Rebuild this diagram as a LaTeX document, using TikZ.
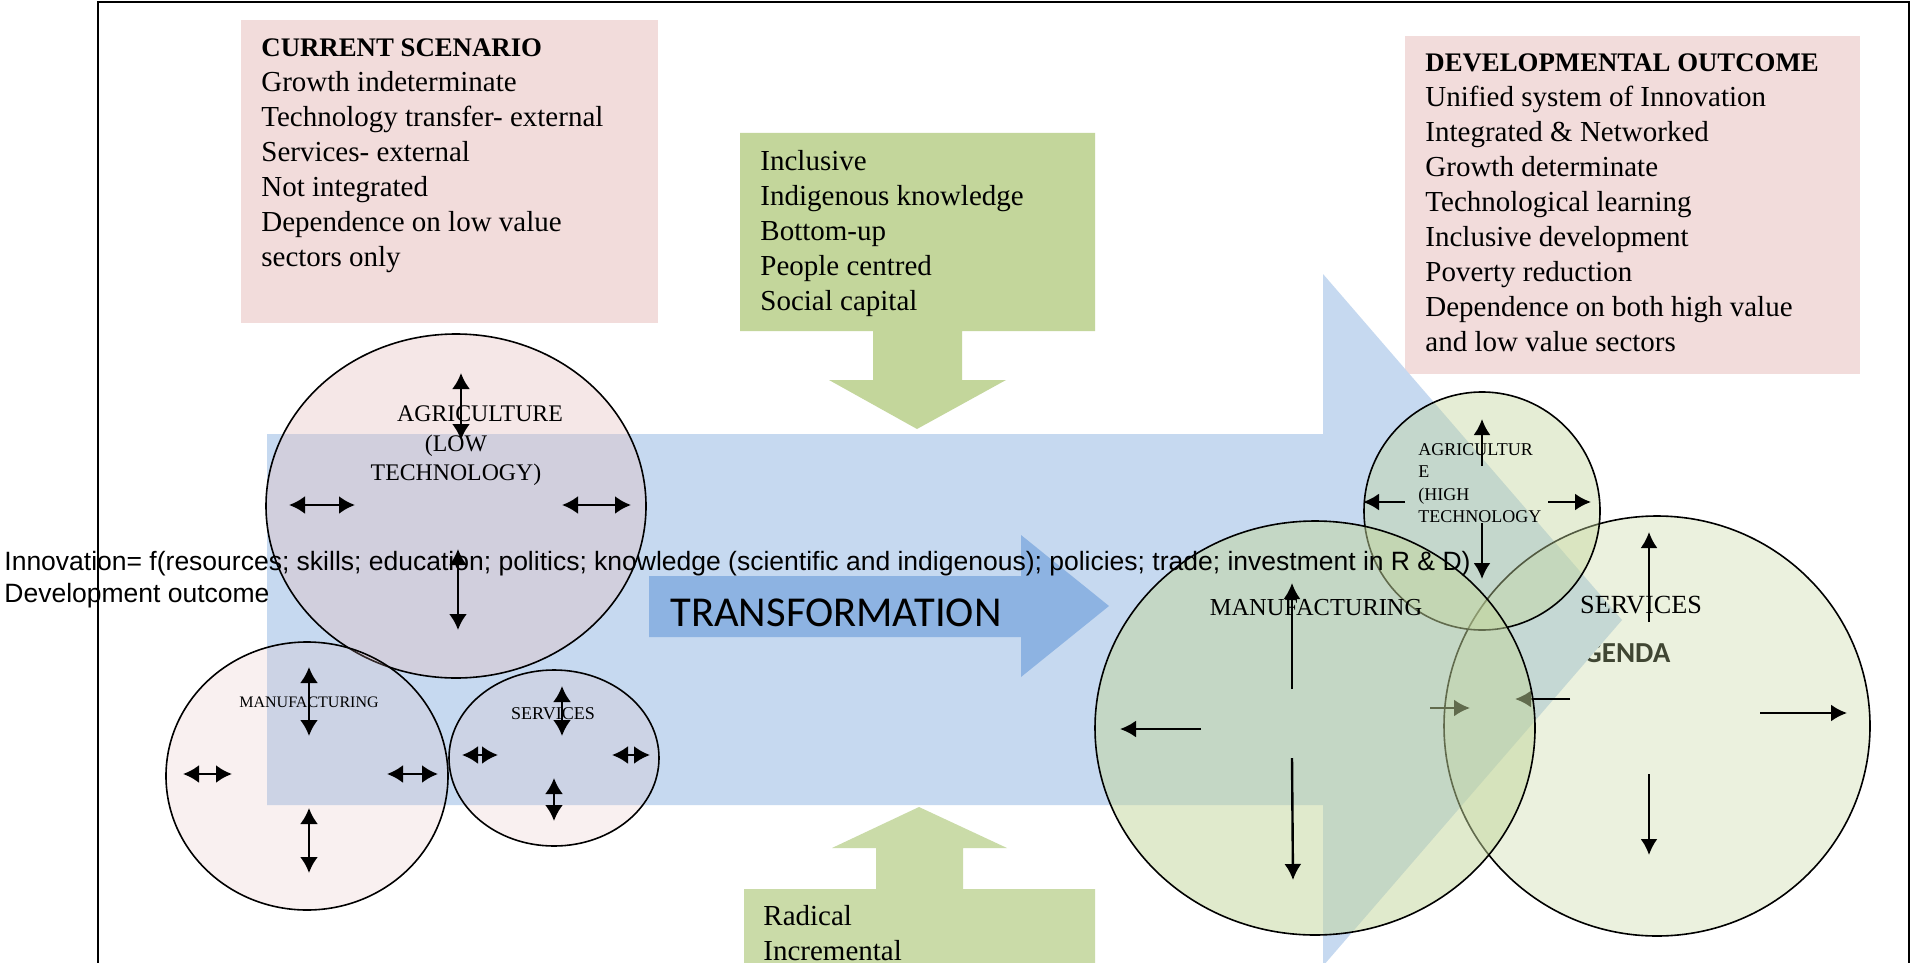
\documentclass[tikz,border=0pt]{standalone}
\usepackage{fontspec}
\setmainfont{Liberation Serif}
\newfontfamily\arialfont{Liberation Sans}
\newfontfamily\calibrifont{Carlito}
\usepackage{tikz}
\usetikzlibrary{arrows.meta}
\usepackage{xcolor}
\definecolor{boxpink}{RGB}{242,220,219}
\definecolor{boxgreen}{RGB}{195,214,155}
\definecolor{lowgreen}{RGB}{202,219,168}
\definecolor{bodyblue}{RGB}{198,217,240}
\definecolor{transblue}{RGB}{141,179,226}
\definecolor{sectorpink}{RGB}{228,190,190}
\definecolor{sectorgreen}{RGB}{195,214,155}

\begin{document}
\begin{tikzpicture}[x=0.5pt,y=-0.5pt,
  boxtext/.style={anchor=north west,inner sep=0pt,align=left,font=\fontsize{14.5}{17.5}\selectfont},
  twoway/.style={{Latex[length=8pt,width=9pt]}-{Latex[length=8pt,width=9pt]},line width=1.3pt},
  oneway/.style={-{Latex[length=8pt,width=8.5pt]},line width=1.2pt},
  sector/.style={draw=black,line width=0.8pt}]
\clip (0,0) rectangle (1921,963);
\fill[white] (0,0) rectangle (1921,963);
\draw[line width=1pt] (98,970) -- (98,2) -- (1909,2) -- (1909,970);
% text boxes
\fill[boxpink] (241,20) rectangle (658,323);
\node[boxtext] (current) at (261,38) {{\fontsize{13.4}{17.5}\selectfont\textbf{CURRENT SCENARIO}}\\Growth indeterminate\\Technology transfer- external\\Services- external\\Not integrated\\Dependence on low value\\sectors only};
\fill[boxpink] (1405,36) rectangle (1860,374);
\node[boxtext] (outcome) at (1425,53) {{\fontsize{13.4}{17.5}\selectfont\textbf{DEVELOPMENTAL OUTCOME}}\\Unified system of Innovation\\Integrated \& Networked\\Growth determinate\\Technological learning\\Inclusive development\\Poverty reduction\\Dependence on both high value\\and low value sectors};
\fill[boxgreen] (740,133) -- (1095,133) -- (1095,331) -- (962,331) -- (962,380) -- (1006,380) -- (917,429) -- (829,380) -- (873,380) -- (873,331) -- (740,331) -- cycle;
\node[boxtext] (inputs) at (760,150) {Inclusive\\Indigenous knowledge\\Bottom-up\\People centred\\Social capital};
\fill[lowgreen] (919,807) -- (1007,848) -- (963,848) -- (963,889) -- (1095,889) -- (1095,970) -- (744,970) -- (744,889) -- (876,889) -- (876,848) -- (832,848) -- cycle;
\node[boxtext] (modes) at (763,905) {Radical\\Incremental};
\node[anchor=base west,inner sep=0pt,font=\calibrifont\bfseries\fontsize{14.5}{17}\selectfont] (agenda) at (1583,662) {GENDA};
% big arrow
\fill[bodyblue] (267,434) -- (1323,434) -- (1323,274) -- (1622,620) -- (1323,966) -- (1323,805) -- (267,805) -- cycle;
\fill[transblue] (649,576) -- (1021,576) -- (1021,535) -- (1109,606) -- (1021,677) -- (1021,637) -- (649,637) -- cycle;
\node[anchor=base west,inner sep=0pt,font=\calibrifont\fontsize{21.3}{24}\selectfont] (transform) at (670,626) {TRANSFORMATION};
% current sectors
\filldraw[sector,fill=sectorpink,fill opacity=0.37] (456,506) ellipse [x radius=190,y radius=172];
\node[inner sep=0pt,font=\fontsize{11.9}{14.5}\selectfont] (agrilow) at (480,414) {AGRICULTURE};
\node[inner sep=0pt,align=center,font=\fontsize{11.9}{14.5}\selectfont] (agrilowsub) at (456,460) {(LOW\\TECHNOLOGY)};
\draw[twoway] (461,373) -- (461,440);
\draw[twoway] (289,505) -- (355,505);
\draw[twoway] (562,505) -- (631,505);
\draw[twoway] (458,549) -- (458,630);
\filldraw[sector,fill=sectorpink,fill opacity=0.22] (307,776) ellipse [x radius=141,y radius=134];
\node[inner sep=0pt,font=\fontsize{8}{10}\selectfont] (manulow) at (309,702) {MANUFACTURING};
\draw[twoway] (309,667) -- (309,736);
\draw[twoway] (183,774) -- (232,774);
\draw[twoway] (387,774) -- (438,774);
\draw[twoway] (309,808) -- (309,873);
\filldraw[sector,fill=sectorpink,fill opacity=0.22] (554,758) ellipse [x radius=105,y radius=88];
\node[inner sep=0pt,font=\fontsize{9}{11}\selectfont] (servlow) at (553,714) {SERVICES};
\draw[twoway] (562,686) -- (562,736);
\draw[twoway] (462,755) -- (498,755);
\draw[twoway] (612,755) -- (650,755);
\draw[twoway] (554,778) -- (554,821);
% future sectors
\filldraw[sector,fill=sectorgreen,fill opacity=0.33] (1657,726) ellipse [x radius=213,y radius=210];
\node[inner sep=0pt,font=\fontsize{13.1}{15}\selectfont] (servhigh) at (1641,605) {SERVICES};
\draw[oneway] (1649,622) -- (1649,532);
\draw[oneway] (1760,713) -- (1847,713);
\draw[oneway] (1649,774) -- (1649,855);
\draw[oneway] (1570,699) -- (1515,699);
\draw[oneway] (1430,708) -- (1470,708);
\filldraw[sector,fill=sectorgreen,fill opacity=0.42] (1482,511) ellipse [x radius=118,y radius=119];
\node[anchor=north west,inner sep=0pt,align=left,font=\fontsize{9}{11.2}\selectfont] (agrihigh) at (1418,443) {AGRICULTUR\\E\\(HIGH\\TECHNOLOGY};
\draw[oneway] (1482,466) -- (1482,419);
\draw[oneway] (1405,502) -- (1363,502);
\draw[oneway] (1548,502) -- (1591,502);
\draw[oneway] (1482,523) -- (1482,579);
\filldraw[sector,fill=sectorgreen,fill opacity=0.5] (1315,728) ellipse [x radius=220,y radius=207];
\node[inner sep=0pt,font=\fontsize{12.2}{14}\selectfont] (manuhigh) at (1316,608) {MANUFACTURING};
\draw[oneway] (1292,689) -- (1292,583);
\draw[oneway] (1201,729) -- (1120,729);
\draw[oneway] (1292,758) -- (1293,880);
% formula
\node[anchor=north west,inner sep=0pt,align=left,font=\arialfont\fontsize{13.25}{16}\selectfont] (formula) at (4,551) {Innovation= f(resources; skills; education; politics; knowledge (scientific and indigenous); policies; trade; investment in R \& D)\\Development outcome};
\end{tikzpicture}
\end{document}
